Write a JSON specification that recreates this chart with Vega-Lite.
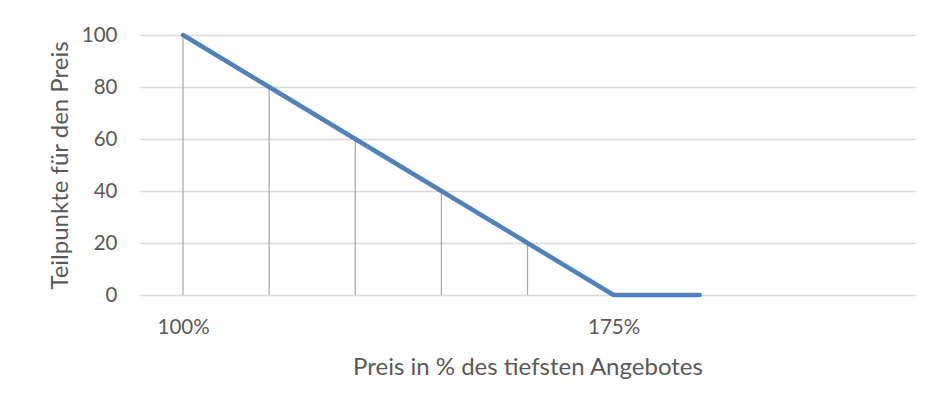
{
  "$schema": "https://vega.github.io/schema/vega-lite/v6.json",
  "width": 775,
  "height": 260,
  "autosize": {"type": "none"},
  "padding": {"left": 140, "top": 35, "right": 18, "bottom": 113},
  "background": "white",
  "data": {"values": [
    {"preis": 100, "punkte": 100},
    {"preis": 115, "punkte": 80},
    {"preis": 130, "punkte": 60},
    {"preis": 145, "punkte": 40},
    {"preis": 160, "punkte": 20},
    {"preis": 175, "punkte": 0},
    {"preis": 190, "punkte": 0}
  ]},
  "config": {
    "view": {"stroke": null},
    "font": "Lato",
    "axis": {"labelFont": "Lato", "titleFont": "Lato", "labelColor": "#595959", "titleColor": "#595959", "titleFontWeight": "normal", "labelFontSize": 20.5, "titleFontSize": 24}
  },
  "encoding": {
    "x": {
      "field": "preis", "type": "quantitative",
      "scale": {"domain": [92.5, 227.5], "nice": false, "zero": false},
      "axis": {
        "values": [100, 175],
        "labelExpr": "datum.value + '%'",
        "grid": false, "ticks": false, "domain": false,
        "labelPadding": 22,
        "title": "Preis in % des tiefsten Angebotes",
        "titlePadding": 18
      }
    },
    "y": {
      "field": "punkte", "type": "quantitative",
      "scale": {"domain": [0, 100], "nice": false},
      "axis": {
        "values": [0, 20, 40, 60, 80, 100],
        "grid": true, "gridColor": "#D9D9D9", "gridWidth": 1.3,
        "ticks": false, "domain": false,
        "labelPadding": 23,
        "title": "Teilpunkte für den Preis",
        "titlePadding": 9
      }
    }
  },
  "layer": [
    {
      "mark": {"type": "rule", "color": "#A6A6A6", "strokeWidth": 1.2},
      "encoding": {"y2": {"datum": 0}}
    },
    {
      "mark": {"type": "line", "color": "#4F81BD", "strokeWidth": 4.5, "strokeCap": "round", "strokeJoin": "round"}
    }
  ]
}
